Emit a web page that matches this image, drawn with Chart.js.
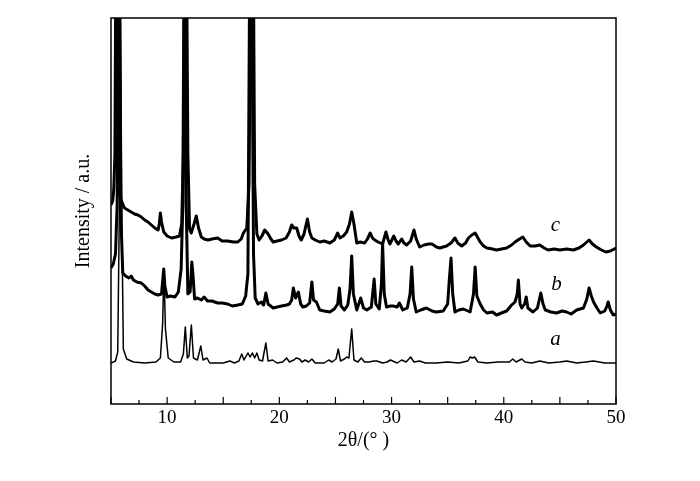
<!DOCTYPE html>
<html>
<head>
<meta charset="utf-8">
<script src="https://cdn.jsdelivr.net/npm/chart.js@4/dist/chart.umd.min.js"></script>
<style>
  html, body { margin: 0; padding: 0; background: #fff; }
  #wrap { width: 700px; height: 481px; }
</style>
</head>
<body>
<div id="wrap"><canvas id="xrdChart"></canvas></div>
<script>
// curve a
const thetaA = [5.0,5.4,5.6,5.75,5.85,5.95,6.1,6.4,7.0,8.0,9.0,9.4,9.6,9.72,9.85,10.1,10.6,11.2,11.45,11.62,11.8,11.95,12.16,12.35,12.7,13.0,13.2,13.55,13.8,15.0,15.6,16.0,16.4,16.65,16.85,17.2,17.4,17.6,17.8,18.0,18.2,18.5,18.8,19.0,19.4,19.8,20.3,20.65,20.9,21.3,21.5,21.8,22.0,22.3,22.6,22.9,23.2,24.0,24.4,24.7,25.05,25.25,25.45,25.8,26.0,26.2,26.45,26.65,27.0,27.3,27.6,28.0,28.4,28.7,29.2,29.6,29.9,30.1,30.5,30.9,31.3,31.7,32.0,32.5,33.0,34.0,35.0,36.0,36.8,37.0,37.2,37.4,37.7,38.5,39.5,40.5,40.8,41.1,41.6,41.9,42.5,43.2,44.0,45.0,45.6,46.5,47.3,48.0,49.0,50.0];
const intA = [41,43,52,200,420,200,55,45,42,41,42,46,80,135,75,46,42,42,50,77,46,48,79,46,44,58,44,46,41,41,43,41,43,50,44,51,47,51,46,51,44,43,61,43,44,41,42,46,42,44,46,45,42,44,42,45,41,41,44,42,45,55,43,45,47,46,75,44,42,46,42,42,43,43,41,42,44,43,41,44,42,47,42,43,41,41,42,41,43,47,46,47,42,41,42,42,45,42,45,42,41,43,41,42,43,41,42,43,41,41];

// curve b
const thetaB = [5.0,5.2,5.4,5.55,5.65,5.75,5.9,6.05,6.3,6.6,6.8,7.0,7.3,7.7,8.0,8.3,8.6,8.9,9.2,9.5,9.62,9.7,9.8,10.0,10.3,10.7,11.0,11.25,11.4,11.5,11.6,11.7,11.85,12.05,12.2,12.3,12.45,12.7,13.05,13.3,13.6,14.0,14.5,14.9,15.4,15.8,16.3,16.7,17.0,17.2,17.35,17.55,17.7,17.85,18.1,18.4,18.6,18.8,19.0,19.45,19.8,20.2,20.65,20.9,21.1,21.25,21.45,21.7,21.9,22.1,22.4,22.7,22.9,23.05,23.3,23.6,24.0,24.5,24.9,25.2,25.35,25.5,25.8,26.1,26.3,26.45,26.6,26.9,27.25,27.5,27.8,28.2,28.45,28.6,28.9,29.1,29.2,29.35,29.55,29.9,30.15,30.5,30.7,31.0,31.4,31.65,31.8,31.95,32.2,32.6,33.1,33.6,34.0,34.6,35.0,35.15,35.3,35.45,35.65,36.0,36.4,37.0,37.3,37.45,37.6,37.9,38.2,38.5,39.0,39.35,39.8,40.25,40.7,41.0,41.2,41.3,41.45,41.6,41.85,42.0,42.15,42.6,43.0,43.3,43.5,43.7,44.2,44.7,45.2,45.6,46.0,46.5,47.1,47.4,47.6,47.8,48.0,48.3,48.6,49.0,49.2,49.3,49.5,49.75,50.0];
const intB = [136,140,150,200,420,400,180,131,128,126,128,124,122,121,118,114,112,110,109,110,125,135,118,107,108,107,112,135,200,420,420,200,110,112,142,130,105,106,104,107,103,103,101,101,100,98,99,100,108,130,420,420,150,106,100,102,99,111,100,96,97,98,99,100,104,116,106,112,100,97,98,101,122,104,102,94,93,92,95,100,116,98,94,99,115,148,110,94,106,96,94,97,125,100,95,120,161,110,97,98,98,97,101,94,96,110,137,105,92,94,96,93,92,93,100,125,146,110,92,94,95,92,110,137,108,100,94,91,92,89,91,93,99,102,110,124,100,96,100,107,96,92,96,111,100,94,92,91,93,92,90,94,96,105,116,108,102,96,91,93,98,102,94,89,90];

// curve c
const thetaC = [5.0,5.15,5.25,5.35,5.42,5.5,5.58,5.7,5.9,6.2,6.5,6.8,7.1,7.4,7.7,8.0,8.3,8.6,8.9,9.2,9.3,9.4,9.5,9.7,10.0,10.4,10.8,11.1,11.3,11.45,11.55,11.75,11.85,12.0,12.15,12.4,12.6,12.8,13.05,13.3,13.65,14.0,14.5,14.9,15.4,15.9,16.3,16.6,16.8,17.1,17.3,17.45,17.7,17.8,18.0,18.2,18.45,18.7,18.85,19.0,19.25,19.45,19.8,20.2,20.6,20.9,21.1,21.3,21.55,21.75,21.95,22.2,22.5,22.7,22.9,23.2,23.6,24.0,24.5,24.9,25.2,25.4,25.7,26.0,26.25,26.45,26.65,26.9,27.2,27.6,27.85,28.1,28.3,28.5,28.8,29.2,29.5,29.7,29.85,30.2,30.4,30.6,30.9,31.1,31.35,31.7,32.0,32.2,32.5,32.9,33.3,33.6,34.0,34.3,34.9,35.3,35.65,35.9,36.25,36.6,36.85,37.15,37.45,37.7,37.9,38.2,38.5,39.0,39.35,39.8,40.25,40.7,41.0,41.4,41.7,42.0,42.35,42.8,43.2,43.6,43.95,44.5,45.0,45.6,46.2,46.7,47.1,47.4,47.6,47.9,48.25,48.7,49.1,49.5,49.85,50.0];
const intC = [199,203,215,250,420,420,250,212,204,196,194,192,190,189,187,184,182,179,176,174,180,191,182,172,168,166,167,168,180,250,420,420,250,175,171,180,188,176,167,165,164,165,166,163,163,162,162,165,171,176,220,420,420,220,170,164,168,174,172,170,165,162,163,164,166,172,179,176,176,168,164,170,185,172,166,164,162,163,161,164,171,166,168,172,180,192,180,161,162,161,165,171,166,164,162,160,172,164,160,168,163,160,165,161,159,163,174,165,157,159,160,160,157,156,158,161,166,161,158,161,166,169,171,166,162,158,156,155,154,155,156,159,162,165,167,162,158,158,159,156,154,155,154,155,154,156,159,162,164,160,157,154,152,153,155,156];

const curveNames = ['a', 'b', 'c'];
const labelTheta = [44.6, 44.7, 44.6];
const labelInt = [65, 120, 179];

const xMin = 5, xMax = 50;
const yMin = 0, yMax = 386;
const tickStep = 2.5;
const tickLabels = [10, 20, 30, 40, 50];

const serif = '"Liberation Serif", "Times New Roman", serif';

function toPoints(xs, ys) {
  return xs.map((x, i) => ({ x: x, y: ys[i] }));
}

const framePlugin = {
  id: 'frame',
  afterDatasetsDraw(chart) {
    const { ctx, chartArea: a, scales } = chart;
    ctx.save();
    ctx.strokeStyle = '#000';
    ctx.lineWidth = 1.5;
    ctx.strokeRect(a.left, a.top, a.right - a.left, a.bottom - a.top);
    // inward ticks on the bottom axis
    ctx.lineWidth = 1.2;
    for (let v = xMin; v <= xMax + 1e-6; v += tickStep) {
      const px = scales.x.getPixelForValue(v);
      const len = Math.abs(v % 5) < 1e-6 ? 7 : 4;
      ctx.beginPath();
      ctx.moveTo(px, a.bottom);
      ctx.lineTo(px, a.bottom - len);
      ctx.stroke();
    }
    // curve labels
    ctx.fillStyle = '#000';
    ctx.font = 'italic 21px ' + serif;
    ctx.textAlign = 'center';
    ctx.textBaseline = 'middle';
    curveNames.forEach((n, i) => {
      ctx.fillText(n, scales.x.getPixelForValue(labelTheta[i]), scales.y.getPixelForValue(labelInt[i]));
    });
    ctx.restore();
  }
};

const ctx = document.getElementById('xrdChart').getContext('2d');
new Chart(ctx, {
  type: 'line',
  data: {
    datasets: [
      { label: 'a', data: toPoints(thetaA, intA), borderColor: '#000', borderWidth: 1.5 },
      { label: 'b', data: toPoints(thetaB, intB), borderColor: '#000', borderWidth: 3 },
      { label: 'c', data: toPoints(thetaC, intC), borderColor: '#000', borderWidth: 3 }
    ]
  },
  options: {
    responsive: true,
    maintainAspectRatio: false,
    animation: false,
    parsing: false,
    clip: 0,
    elements: { point: { radius: 0 }, line: { tension: 0, borderJoinStyle: 'round' } },
    layout: { padding: { left: 60, right: 84, top: 18, bottom: 0 } },
    plugins: { legend: { display: false }, tooltip: { enabled: false } },
    scales: {
      x: {
        type: 'linear',
        min: xMin,
        max: xMax,
        afterFit: s => { s.height = 77; },
        grid: { display: false },
        border: { display: false },
        ticks: {
          stepSize: tickStep,
          autoSkip: false,
          maxRotation: 0,
          padding: -5,
          color: '#000',
          font: { family: serif, size: 19 },
          callback: v => tickLabels.includes(v) ? String(v) : ''
        },
        title: {
          display: true,
          text: '2θ/(° )',
          color: '#000',
          font: { family: serif, size: 20 },
          padding: { top: 0, bottom: 28 }
        }
      },
      y: {
        type: 'linear',
        min: yMin,
        max: yMax,
        afterFit: s => { s.width = 51; },
        grid: { display: false },
        border: { display: false },
        ticks: { display: false },
        title: {
          display: true,
          text: 'Intensity / a.u.',
          color: '#000',
          font: { family: serif, size: 20 },
          padding: { top: 12 }
        }
      }
    }
  },
  plugins: [framePlugin]
});
</script>
</body>
</html>
